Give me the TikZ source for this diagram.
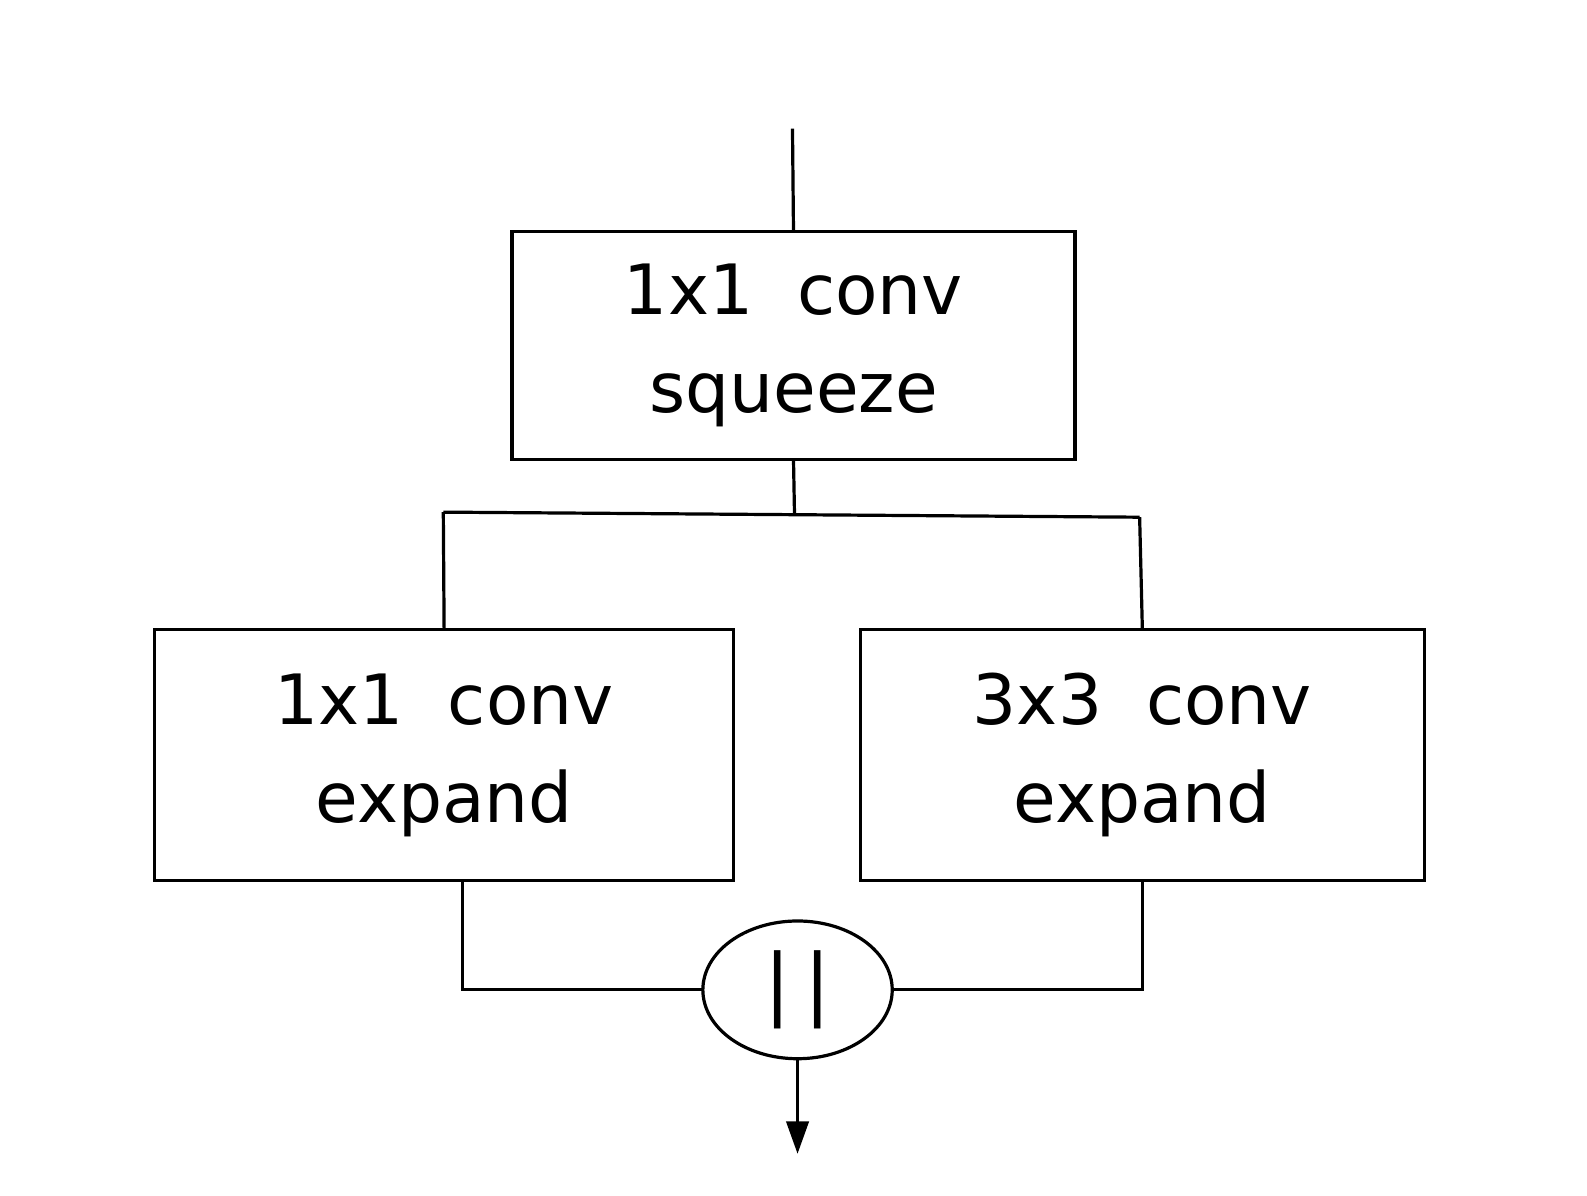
\documentclass[tikz,border=0pt]{standalone}
\usepackage{fontspec}
\setmainfont{DejaVu Sans}
\usetikzlibrary{arrows.meta,positioning,calc,shapes.geometric}

\begin{document}
\begin{tikzpicture}
    [x=0.01cm,y=-0.01cm,line width=0.9pt,
     convbox/.style={rectangle,draw=black,line width=0.9pt,align=center,inner sep=0pt,outer sep=0pt,
                     font=\fontsize{19.5}{27.5}\selectfont}]
    \useasboundingbox (0,0) rectangle (1568,1181);

    \node[convbox,minimum width=5.56cm,minimum height=2.25cm] (squeeze) at (784,341.5) {1x1\ \ conv\\squeeze};
    \node[convbox,minimum width=5.72cm,minimum height=2.48cm,below=1.68cm of squeeze,xshift=-3.45cm] (e1) {1x1\ \ conv\\expand};
    \node[convbox,minimum width=5.57cm,minimum height=2.48cm,below=1.68cm of squeeze,xshift=3.445cm] (e3) {3x3\ \ conv\\expand};
    \node[ellipse,draw=black,line width=0.9pt,inner sep=0pt,outer sep=0pt,minimum width=1.87cm,minimum height=1.36cm,
          font=\fontsize{22}{22}\selectfont] (cat) at (788,978) {|\hspace{4pt}|};

    % input and split
    \coordinate (in) at (783,127);
    \coordinate (split) at (785,508.5);
    \coordinate (brL) at (438,506);
    \coordinate (brR) at (1126,511);
    \coordinate (out) at (788,1140);

    \draw (in) -- (squeeze.north);
    \draw (squeeze.south) -- (split);
    \draw (brL) -- (brR);
    \draw (brL) -- (e1.north);
    \draw (brR) -- (e3.north);
    % concat
    \draw ($(e1.south)+(18,0)$) |- (cat.west);
    \draw (e3.south) |- (cat.east);
    \draw[-{Triangle[length=0.32cm,width=0.22cm]}] (cat.south) -- (out);
\end{tikzpicture}
\end{document}
